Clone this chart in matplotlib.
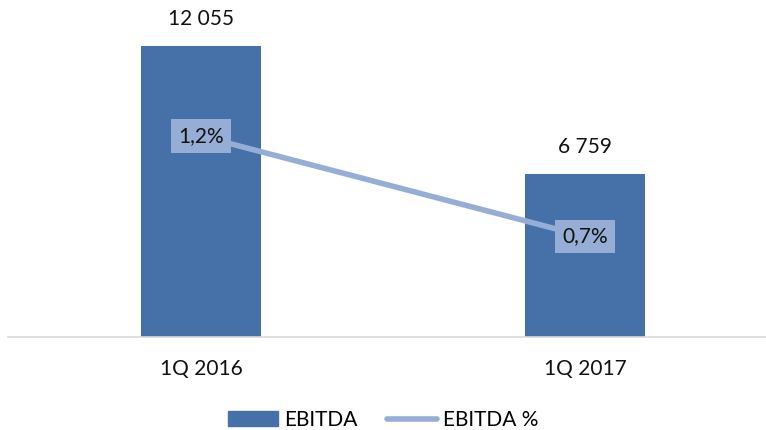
import numpy as np
import matplotlib.pyplot as plt
from matplotlib.patches import Patch
from matplotlib.lines import Line2D

categories = ['1Q 2016', '1Q 2017']
ebitda = [12055, 6759]
ebitda_pct = [1.2, 0.7]
bar_labels = ['12 055', '6 759']
pct_labels = ['1,2%', '0,7%']

bar_color = '#4571A8'
line_color = '#96AED6'
plt.rcParams['font.family'] = ['Lato', 'DejaVu Sans']

W, H = 766, 430
fig = plt.figure(figsize=(W / 100, H / 100), dpi=100)
# axes: x from 8 to 766 px, y from 10 to 337 px (top-down)
ax = fig.add_axes([8 / W, 1 - 337 / H, 758 / W, 327 / H])
x = np.arange(len(categories))

ax.bar(x, ebitda, width=0.3125, color=bar_color, zorder=2)
ax.set_xlim(-0.5026, 1.4714)
ax.set_ylim(0, 13546)
for xi, v, lab in zip(x, ebitda, bar_labels):
    ax.annotate(lab, (xi, v), xytext=(0, 12), textcoords='offset points',
                ha='center', va='bottom', fontsize=15, color='#111111')

for s in ['top', 'right', 'left']:
    ax.spines[s].set_visible(False)
ax.spines['bottom'].set_color('#D9D9D9')
ax.spines['bottom'].set_linewidth(1.2)
ax.set_yticks([])
ax.set_xticks(x)
ax.set_xticklabels(categories, fontsize=15, color='#111111')
ax.tick_params(axis='x', length=0, pad=16)

ax2 = ax.twinx()
ax2.set_ylim(0.2, 1.827)
ax2.plot(x, ebitda_pct, color=line_color, lw=4, solid_capstyle='round', zorder=3)
for xi, v, lab in zip(x, ebitda_pct, pct_labels):
    ax2.text(xi, v, lab, ha='center', va='center', fontsize=15, color='#111111',
             bbox=dict(boxstyle='square,pad=0.33', fc=line_color, ec='none'))
ax2.set_yticks([])
for s in ax2.spines.values():
    s.set_visible(False)

handles = [Patch(color=bar_color, label='EBITDA'),
           Line2D([0], [0], color=line_color, lw=4, solid_capstyle='round', label='EBITDA %')]
fig.legend(handles=handles, loc='center', bbox_to_anchor=(0.5, 1 - 420 / H), ncol=2,
           frameon=False, fontsize=15, handlelength=2.4, handleheight=0.7,
           columnspacing=1.4, handletextpad=0.3)

fig.savefig('out.png', dpi=100)
